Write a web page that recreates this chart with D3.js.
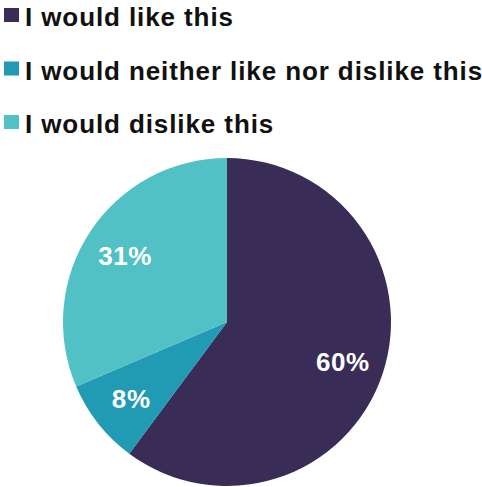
<!DOCTYPE html>
<html>
<head>
<meta charset="utf-8">
<script src="https://cdn.jsdelivr.net/npm/d3@7"></script>
<style>
  body { margin: 0; background: #fff; }
  svg { display: block; }
  text { font-family: 'Liberation Sans', Arial, sans-serif; font-weight: bold; }
</style>
</head>
<body>
<svg id="chart" width="482" height="487"></svg>
<script>
// data
var categories = ['I would like this', 'I would neither like nor dislike this', 'I would dislike this'];
var shares = [60.1, 8.4, 31.4];
var colours = ['#392c57', '#219ab4', '#51c1c5'];

var svgWidth = 482;
var svgHeight = 487;
var svg = d3.select('#chart');

// legend
var legend = svg.append('g').attr('class', 'legend');
var rows = legend.selectAll('.row')
    .data(categories)
    .join('g')
    .attr('class', 'row')
    .attr('transform', (d, i) => `translate(0,${i * 53.5})`);

rows.append('rect')
    .attr('x', 4)
    .attr('y', 8)
    .attr('width', 15)
    .attr('height', 14)
    .attr('fill', (d, i) => colours[i]);

rows.append('text')
    .attr('x', 25)
    .attr('y', 26)
    .style('font-size', '26px')
    .style('letter-spacing', '0.9px')
    .attr('fill', '#111')
    .text(d => d);

// pie
var radius = 164;
var pieG = svg.append('g')
    .attr('transform', `translate(227,322)`);

var pie = d3.pie().sort(null).value(d => d);
var arcs = pie(shares);

var arc = d3.arc().innerRadius(0).outerRadius(radius);
var labelArc = d3.arc().innerRadius(122).outerRadius(122);

pieG.selectAll('.slice')
    .data(arcs)
    .join('path')
    .attr('class', 'slice')
    .attr('d', arc)
    .attr('fill', (d, i) => colours[i]);

pieG.selectAll('.slice-label')
    .data(arcs)
    .join('text')
    .attr('class', 'slice-label')
    .attr('transform', d => `translate(${labelArc.centroid(d)})`)
    .attr('text-anchor', 'middle')
    .attr('dy', '0.4em')
    .style('font-size', '26px')
    .style('letter-spacing', '0.6px')
    .attr('fill', '#fff')
    .text(d => Math.round(d.data) + '%');
</script>
</body>
</html>
